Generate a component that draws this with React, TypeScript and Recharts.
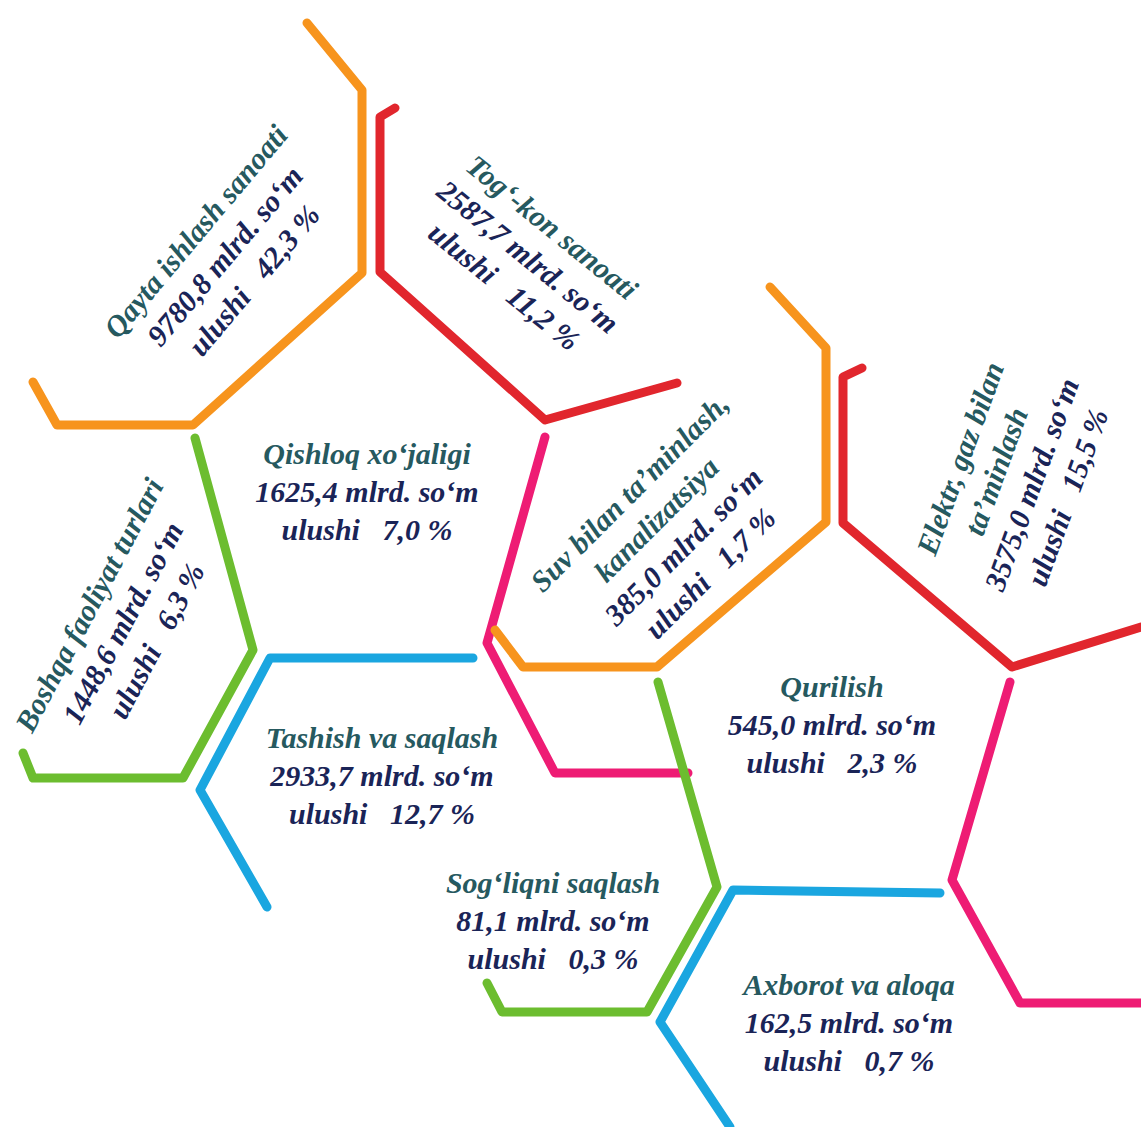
import { ScatterChart, Scatter, XAxis, YAxis } from "recharts";

const W = 1141;
const H = 1127;

// sectors of the economy, volume (mlrd. so'm) and share (%)
const sectorNames = [
  ["Qayta ishlash sanoati"],
  ["Tog‘-kon sanoati"],
  ["Elektr, gaz bilan", "ta’minlash"],
  ["Suv bilan ta’minlash,", "kanalizatsiya"],
  ["Qishloq xo‘jaligi"],
  ["Boshqa faoliyat turlari"],
  ["Tashish va saqlash"],
  ["Qurilish"],
  ["Sog‘liqni saqlash"],
  ["Axborot va aloqa"],
];
const volumes = [9780.8, 2587.7, 3575.0, 385.0, 1625.4, 1448.6, 2933.7, 545.0, 81.1, 162.5];
const shares = [42.3, 11.2, 15.5, 1.7, 7.0, 6.3, 12.7, 2.3, 0.3, 0.7];

// where each label block sits on the page (centre) and its rotation
const labelX = [225, 528, 1014, 670, 367, 123, 382, 832, 553, 849];
const labelY = [256, 257, 478, 533, 492, 623, 776, 725, 921, 1023];
const labelAngle = [-50, 39, -70, -45, 0, -62, 0, 0, 0, 0];

// honeycomb outline segments (page coordinates)
const orangeTop = [[307, 23], [362, 90], [362, 273], [193, 425], [57, 425], [33, 382]];
const redTop = [[395, 108], [380, 117], [380, 272], [545, 420], [677, 383]];
const greenLeft = [[195, 438], [253, 650], [183, 778], [33, 778], [23, 753]];
const pinkMid = [[545, 437], [487, 643], [555, 773], [688, 773]];
const blueLeft = [[473, 658], [270, 658], [200, 790], [267, 907]];
const orangeMid = [[770, 287], [826, 348], [826, 522], [657, 667], [523, 667], [495, 630]];
const redRight = [[862, 368], [843, 377], [843, 523], [1012, 667], [1141, 627]];
const greenMid = [[658, 682], [717, 887], [647, 1012], [502, 1012], [487, 983]];
const pinkRight = [[1010, 682], [952, 880], [1020, 1003], [1141, 1003]];
const blueBottom = [[940, 893], [733, 890], [660, 1022], [730, 1127]];

const outlines = [
  { pts: orangeTop, color: "#f7941d" },
  { pts: redTop, color: "#e1262d" },
  { pts: greenLeft, color: "#6cbd2f" },
  { pts: pinkMid, color: "#ee1c74" },
  { pts: blueLeft, color: "#1aa6e0" },
  { pts: orangeMid, color: "#f7941d" },
  { pts: redRight, color: "#e1262d" },
  { pts: greenMid, color: "#6cbd2f" },
  { pts: pinkRight, color: "#ee1c74" },
  { pts: blueBottom, color: "#1aa6e0" },
];

const TEAL = "#26595f";
const NAVY = "#1a2457";
const FONT = 30;
const LINE_H = 38;

const fmt = (v: number) => v.toFixed(1).replace(".", ",");

const labels = sectorNames.map((name, i) => ({
  x: labelX[i],
  y: labelY[i],
  angle: labelAngle[i],
  nameLines: name.length,
  lines: [...name, `${fmt(volumes[i])} mlrd. so‘m`, `ulushi   ${fmt(shares[i])} %`],
}));

function LabelBlock(props: any) {
  const { cx, cy, payload } = props;
  const n = payload.lines.length;
  return (
    <text
      transform={`rotate(${payload.angle} ${cx} ${cy})`}
      textAnchor="middle"
      fontFamily="'Liberation Serif', 'Times New Roman', serif"
      fontWeight="bold"
      fontStyle="italic"
      fontSize={FONT}
      style={{ whiteSpace: "pre" }}
    >
      {payload.lines.map((l: string, i: number) => (
        <tspan
          key={i}
          x={cx}
          y={cy + (i - (n - 1) / 2) * LINE_H + 10}
          fill={i < payload.nameLines ? TEAL : NAVY}
        >
          {l}
        </tspan>
      ))}
    </text>
  );
}

export default function App() {
  return (
    <div style={{ width: W, height: H, background: "#fff" }}>
      <style>{"body{margin:0}"}</style>
      <ScatterChart width={W} height={H} margin={{ top: 0, right: 0, bottom: 0, left: 0 }}>
        <XAxis type="number" dataKey="x" domain={[0, W]} hide allowDataOverflow />
        <YAxis type="number" dataKey="y" domain={[0, H]} reversed hide allowDataOverflow />
        {outlines.map((o, i) => (
          <Scatter
            key={i}
            data={o.pts.map(([x, y]) => ({ x, y }))}
            fill={o.color}
            strokeLinecap="round"
            strokeLinejoin="round"
            line={{ stroke: o.color, strokeWidth: 9, strokeLinecap: "round", strokeLinejoin: "round" }}
            lineType="joint"
            shape={() => <g />}
            isAnimationActive={false}
          />
        ))}
        <Scatter data={labels} shape={LabelBlock} isAnimationActive={false} />
      </ScatterChart>
    </div>
  );
}
